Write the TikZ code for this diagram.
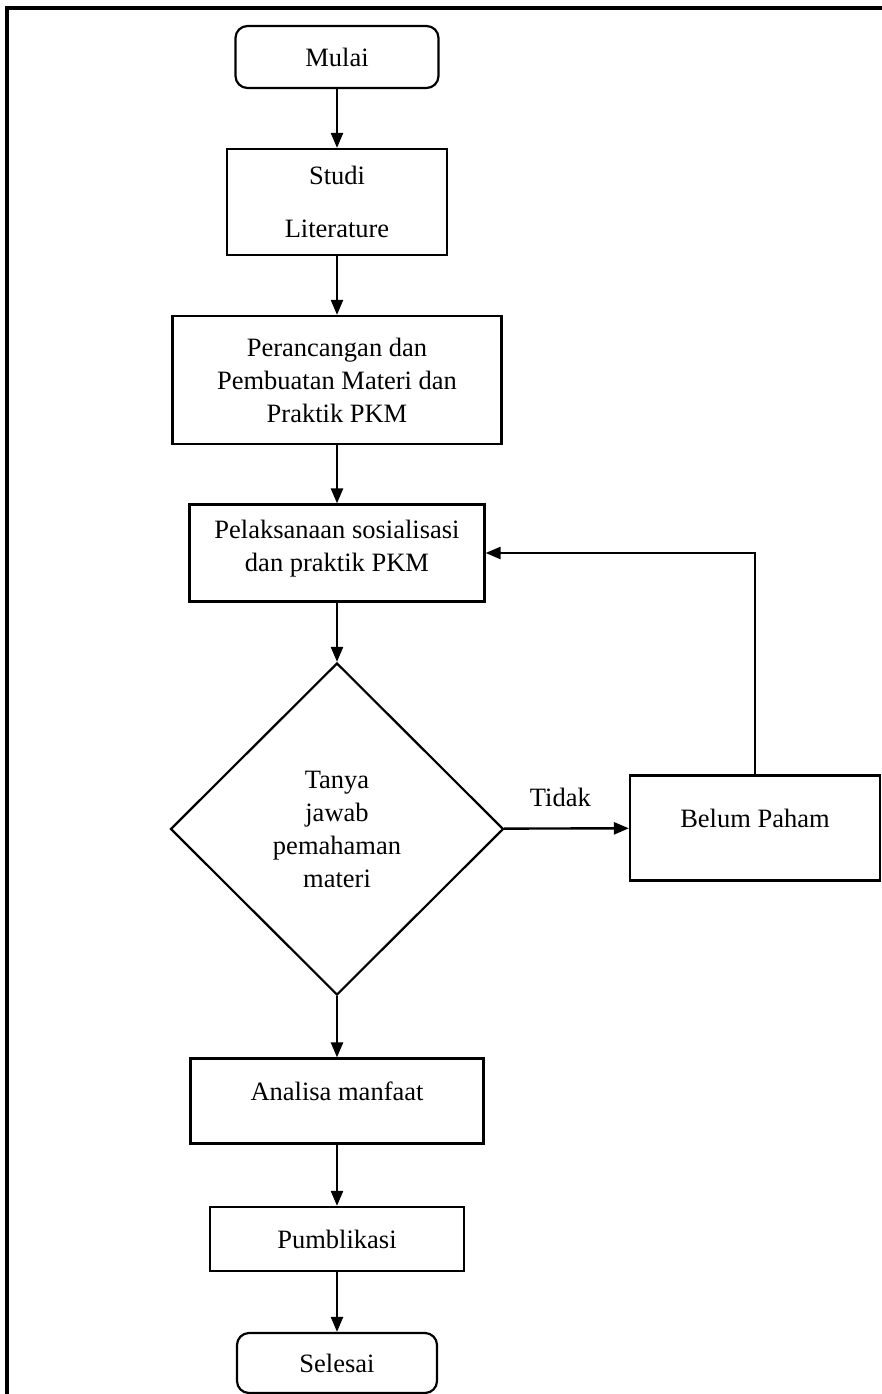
\documentclass[tikz,border=0pt]{standalone}
\usepackage{fontspec}
\setmainfont{Liberation Serif}
\usetikzlibrary{arrows.meta,positioning,shapes.geometric}

\begin{document}
\begin{tikzpicture}[x=1pt,y=-1pt,
		every node/.style={font=\fontsize{26.5}{33}\selectfont},
		proses/.style={draw, line width=2.2pt, rectangle, align=center, inner sep=0pt},
		terminal/.style={draw, line width=2.2pt, rounded corners=12pt, align=center, inner sep=0pt},
		keputusan/.style={draw, line width=2.2pt, diamond, aspect=1, align=center, inner sep=0pt},
		panah/.style={-{Triangle[length=15pt,width=12pt]}, line width=2.4pt}]
		\useasboundingbox (0,0) rectangle (882,1394);
		\draw[line width=3.2pt] (7,8) rectangle (900,1420);
		
		\node[terminal, minimum width=203pt, minimum height=62pt] (mulai) at (337,57) {Mulai};
		\node[proses, minimum width=220pt, minimum height=106pt] (studi) at (337,202) {Studi\\[20pt]Literature};
		\node[proses, minimum width=329pt, minimum height=128pt] (rancang) at (337,380) {Perancangan dan\\Pembuatan Materi dan\\Praktik PKM};
		\node[proses, minimum width=295pt, minimum height=97pt, text depth=15pt] (laksana) at (337,553) {Pelaksanaan sosialisasi\\dan praktik PKM};
		\node[keputusan, minimum width=333pt, minimum height=332pt] (tanya) at (337,829) {Tanya\\jawab\\pemahaman\\materi};
		\node[proses, minimum width=250pt, minimum height=105pt, text depth=20pt] (belum) at (755,828) {Belum Paham};
		\node[proses, minimum width=293pt, minimum height=85pt, text depth=20pt] (analisa) at (337,1101) {Analisa manfaat};
		\node[proses, minimum width=254pt, minimum height=64pt] (publikasi) at (337,1239) {Pumblikasi};
		\node[terminal, minimum width=200pt, minimum height=60pt] (selesai) at (337,1363) {Selesai};
		
		\draw[panah] (mulai) -- (studi);
		\draw[panah] (studi) -- (rancang);
		\draw[panah] (rancang) -- (laksana);
		\draw[panah] (laksana) -- (tanya);
		\draw[panah] (tanya) -- node[above=17pt, pos=0.45] {Tidak} (belum);
		\draw[panah] (belum) |- (laksana);
		\draw[panah] (tanya) -- (analisa);
		\draw[panah] (analisa) -- (publikasi);
		\draw[panah] (publikasi) -- (selesai);
	\end{tikzpicture}
\end{document}
